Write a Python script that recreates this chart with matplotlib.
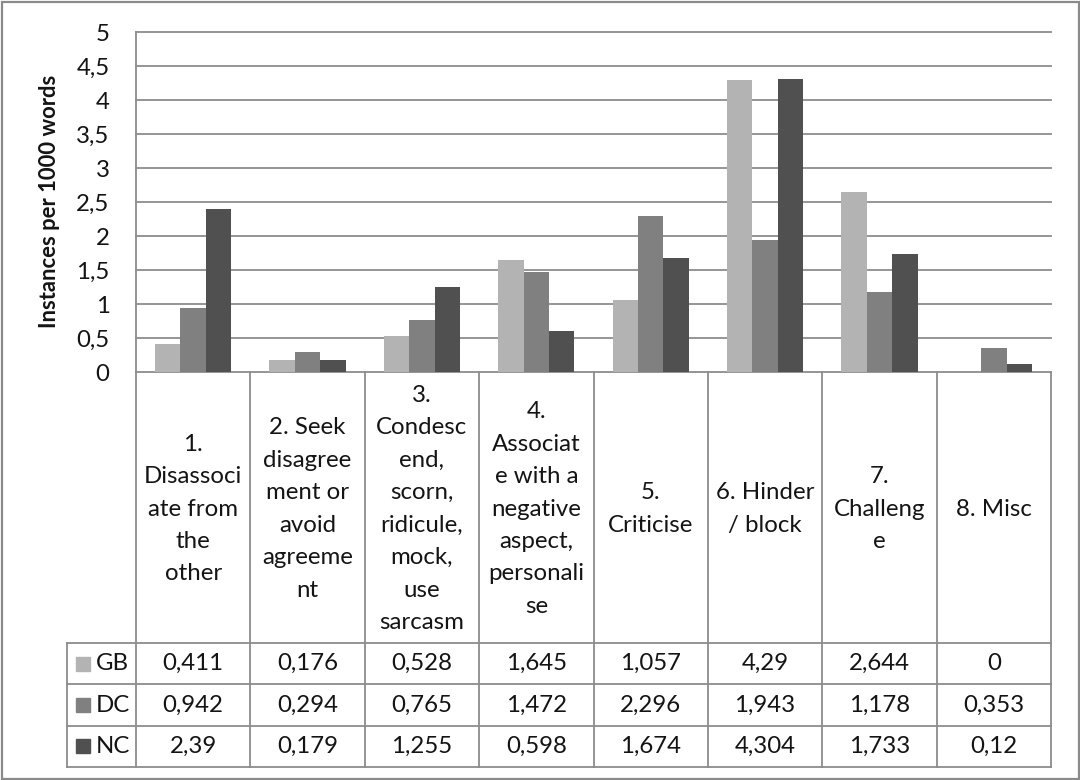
import matplotlib
matplotlib.use("Agg")
import numpy as np
import matplotlib.pyplot as plt
from matplotlib.patches import Rectangle

plt.rcParams['font.family'] = ['Lato', 'DejaVu Sans']

# category names, already broken the way they wrap in the table header
categories = [
    ["1.", "Disassoci", "ate from", "the", "other"],
    ["2. Seek", "disagree", "ment or", "avoid", "agreeme", "nt"],
    ["3.", "Condesc", "end,", "scorn,", "ridicule,", "mock,", "use", "sarcasm"],
    ["4.", "Associat", "e with a", "negative", "aspect,", "personali", "se"],
    ["5.", "Criticise"],
    ["6. Hinder", "/ block"],
    ["7.", "Challeng", "e"],
    ["8. Misc"],
]
series = ["GB", "DC", "NC"]
gb = [0.411, 0.176, 0.528, 1.645, 1.057, 4.29, 2.644, 0]
dc = [0.942, 0.294, 0.765, 1.472, 2.296, 1.943, 1.178, 0.353]
nc = [2.39, 0.179, 1.255, 0.598, 1.674, 4.304, 1.733, 0.12]
y_ticks = [0, 0.5, 1, 1.5, 2, 2.5, 3, 3.5, 4, 4.5, 5]

colors = ["#b3b3b3", "#808080", "#505050"]
grid_c = "#8c8c8c"
text_c = "#141414"
FS = 17.3

W, H = 1080, 780


def fmt(v):
    return format(v, 'g').replace('.', ',')


def px_box(x0, y0, x1, y1):
    return [x0 / W, 1 - y1 / H, (x1 - x0) / W, (y1 - y0) / H]


fig = plt.figure(figsize=(W / 100, H / 100), dpi=100)
fig.patch.set_facecolor("white")

# --- bar chart ---
PLOT_L, PLOT_R, PLOT_T, PLOT_B = 136, 1051, 32, 372
ax = fig.add_axes(px_box(PLOT_L, PLOT_T, PLOT_R, PLOT_B))
x = np.arange(len(categories))
bw = 1 / 4.5  # gap width 150%
for k, (vals, c) in enumerate(zip([gb, dc, nc], colors)):
    ax.bar(x + (k - 1) * bw, vals, bw, color=c, zorder=3, linewidth=0)
ax.set_xlim(-0.5, len(categories) - 0.5)
ax.set_ylim(0, 5)
ax.set_yticks(y_ticks)
ax.set_yticklabels([fmt(t) for t in y_ticks])
ax.set_xticks([])
for t in y_ticks:
    ax.axhline(t, color=grid_c, lw=1.3, zorder=1, clip_on=False)
ax.tick_params(axis='y', length=0, pad=19, labelsize=FS, labelcolor=text_c)
for s in ['top', 'right', 'bottom']:
    ax.spines[s].set_visible(False)
ax.spines['left'].set_color(grid_c)
ax.spines['left'].set_linewidth(1.3)

fig.text(50 / W, 1 - 201 / H, "Instances per 1000 words", rotation=90,
         ha='center', va='center', fontsize=FS - 1.5, fontweight='bold', color=text_c)

# --- data table below the plot (y in pixel rows, x in category units) ---
TAB_L, TAB_B, HDR_B = 67, 767, 643
row_h = (TAB_B - HDR_B) / 3
unit = (PLOT_R - PLOT_L) / len(categories)
x_min = -0.5 - (PLOT_L - TAB_L) / unit
tab = fig.add_axes(px_box(TAB_L, PLOT_B, PLOT_R, TAB_B))
tab.set_xlim(x_min, len(categories) - 0.5)
tab.set_ylim(TAB_B, PLOT_B)
tab.axis('off')

line_kw = dict(color=grid_c, lw=1.3, clip_on=False)
n = len(categories)
for i in range(n + 1):
    tab.plot([i - 0.5, i - 0.5], [PLOT_B, TAB_B], **line_kw)
tab.plot([x_min, x_min], [HDR_B, TAB_B], **line_kw)
for r in range(4):
    yy = HDR_B + r * row_h
    tab.plot([x_min, n - 0.5], [yy, yy], **line_kw)

# header cells
hdr_mid = (PLOT_B + HDR_B) / 2 + 8
pitch = 32.5
for i, lines in enumerate(categories):
    m = len(lines)
    for j, ln in enumerate(lines):
        yb = hdr_mid + (j - (m - 1) / 2) * pitch
        tab.text(i, yb, ln, ha='center', va='baseline', fontsize=FS, color=text_c)

# value rows with legend keys
for k, (name, vals, c) in enumerate(zip(series, [gb, dc, nc], colors)):
    yc = HDR_B + (k + 0.5) * row_h
    tab.plot([-0.5 - (PLOT_L - 83) / unit], [yc], marker='s', ms=9.5,
             color=c, mec=c, clip_on=False)
    tab.text(-0.5 - (PLOT_L - 96) / unit, yc, name, ha='left', va='center',
             fontsize=FS, color=text_c)
    for i, v in enumerate(vals):
        tab.text(i, yc, fmt(v), ha='center', va='center', fontsize=FS, color=text_c)

# outer chart border
fig.add_artist(Rectangle((1.5 / W, 1.5 / H), (W - 3) / W, (H - 3) / H,
                         transform=fig.transFigure, fill=False,
                         edgecolor="#8a8a8a", lw=1.6))

fig.savefig("out.png", dpi=100)
